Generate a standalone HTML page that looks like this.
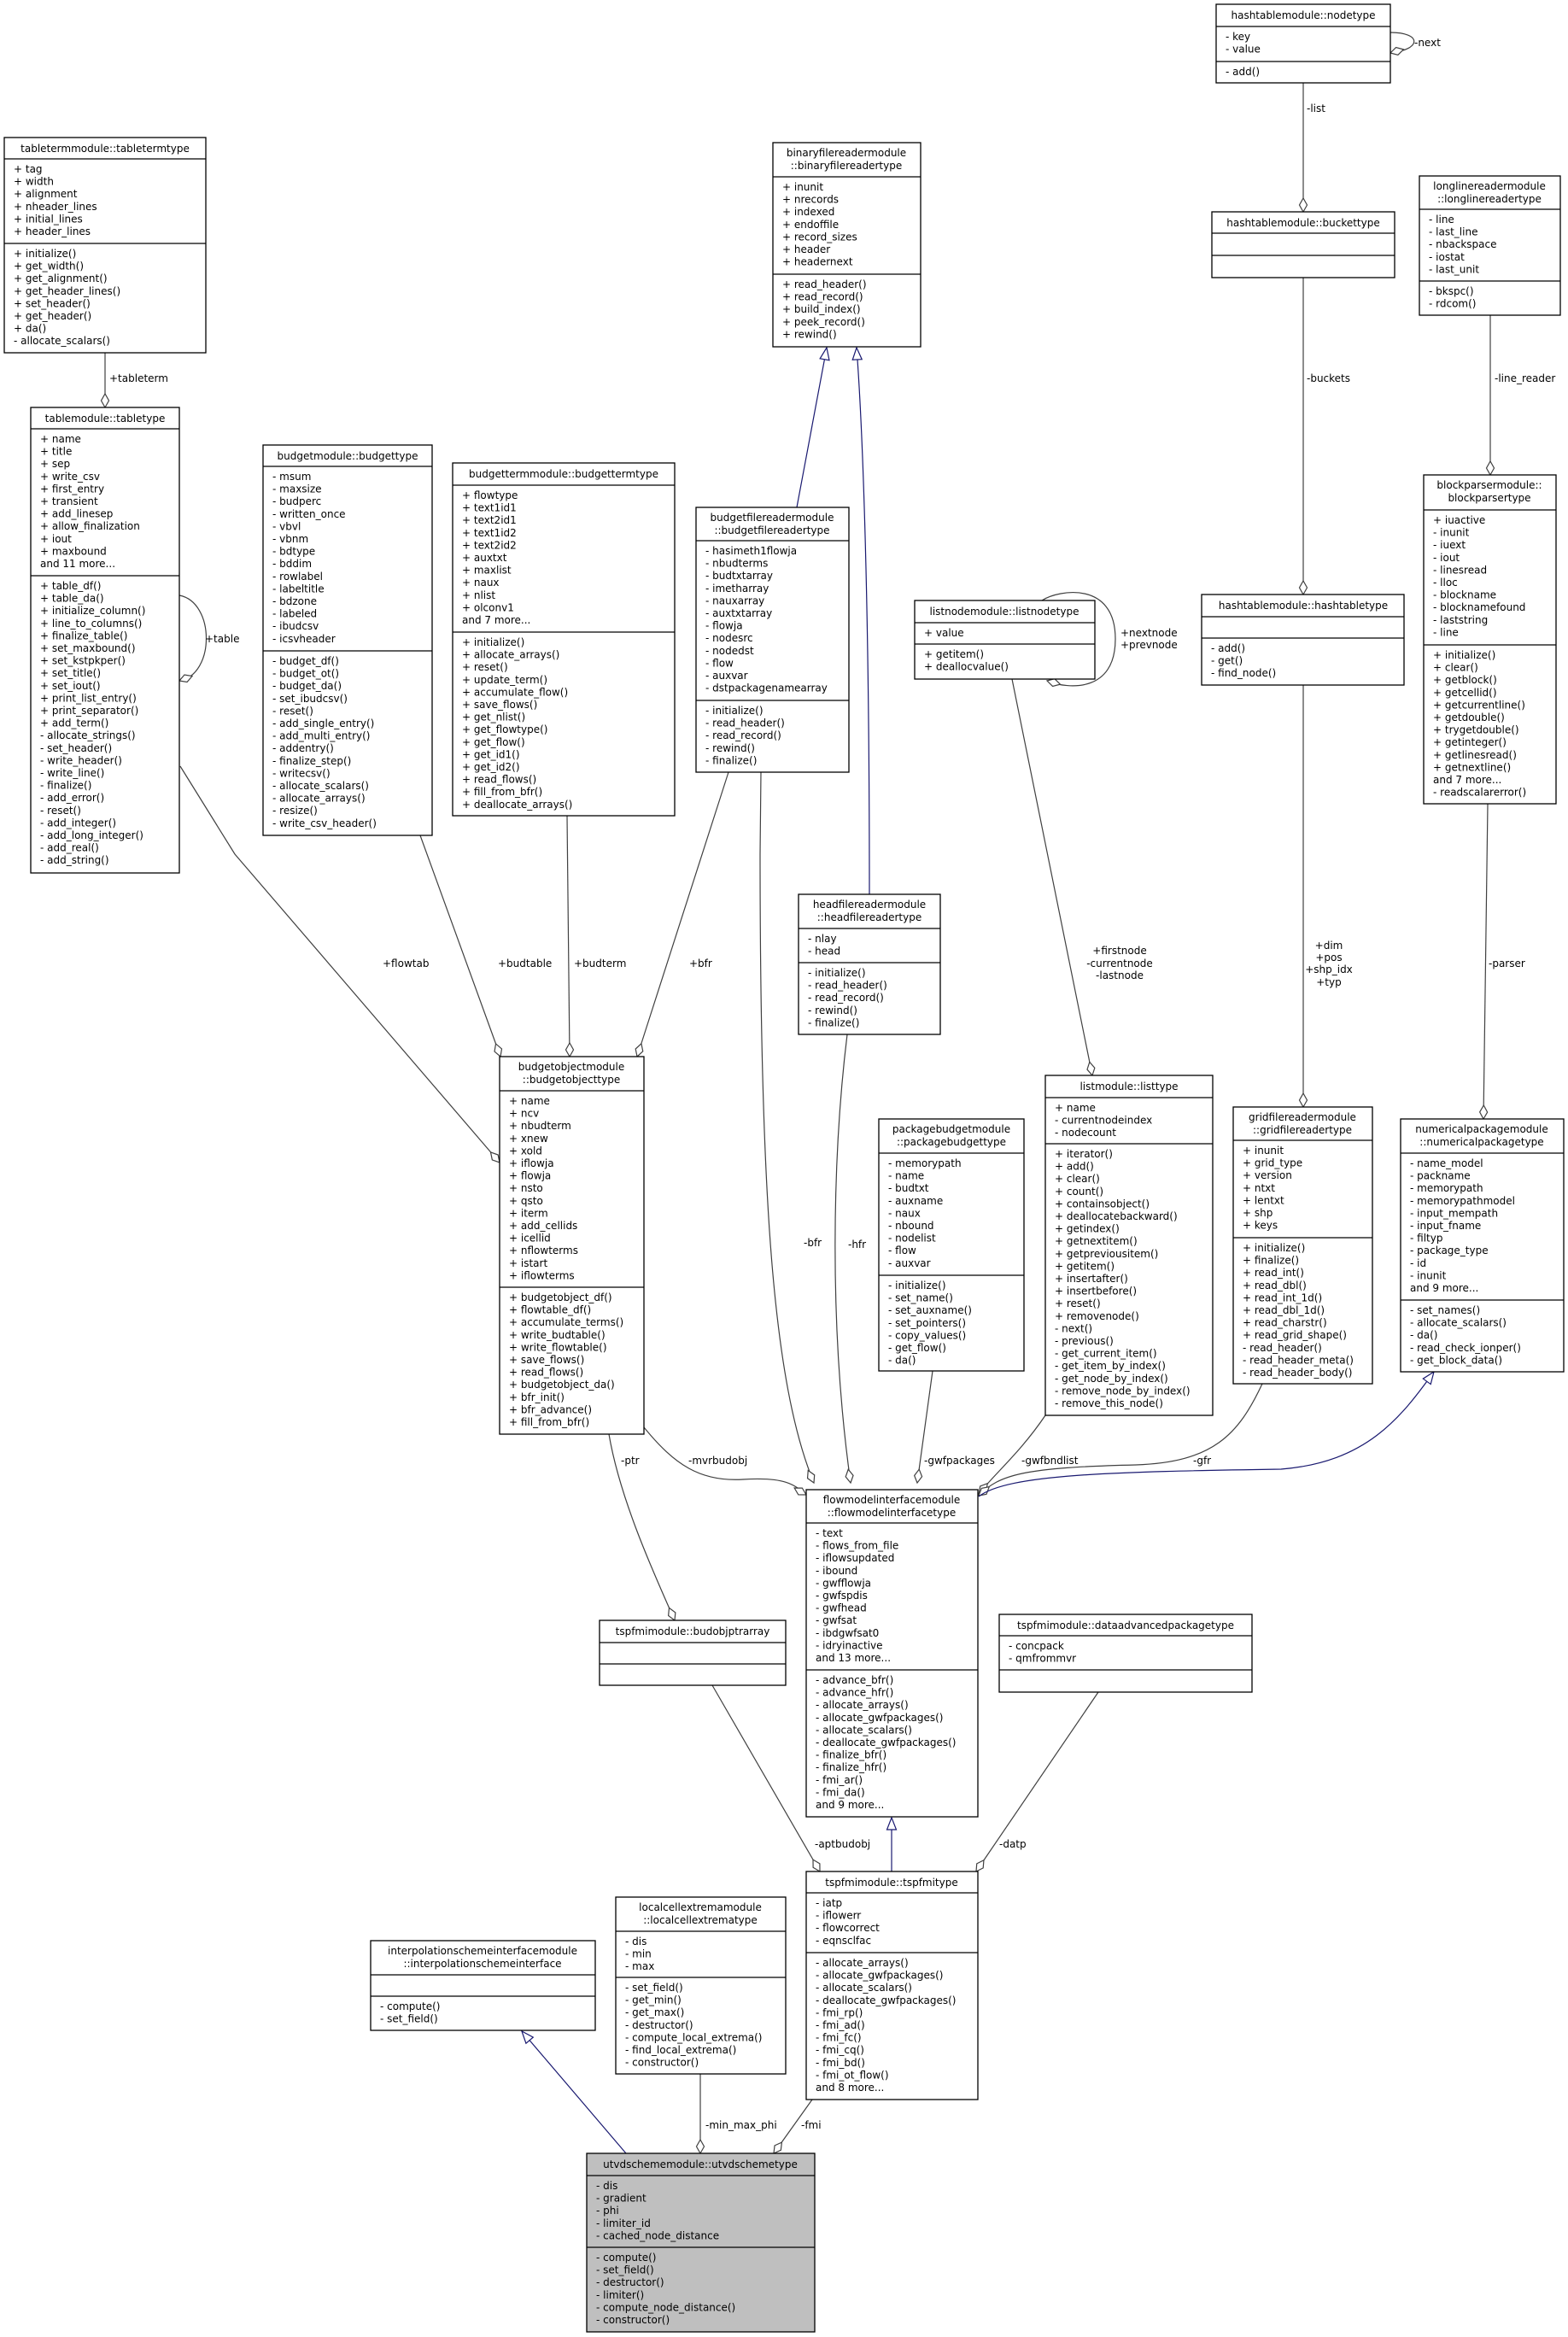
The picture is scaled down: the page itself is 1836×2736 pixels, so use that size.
<!DOCTYPE html>
<html><head><meta charset="utf-8"><style>
html,body{margin:0;padding:0;background:#fff;}
svg{display:block;}
text{font-family:"DejaVu Sans","Liberation Sans",sans-serif;font-size:12px;fill:#000;}
.b{fill:#fff;stroke:#000;stroke-width:1.3;}
.g{fill:#bfbfbf;stroke:#000;stroke-width:1.3;}
.s{stroke:#000;stroke-width:1.3;}
.e{fill:none;stroke:#404040;stroke-width:1.2;}
.i{fill:none;stroke:#191970;stroke-width:1.2;}
.d{fill:#fff;stroke:#404040;stroke-width:1.2;}
.t{fill:#fff;stroke:#191970;stroke-width:1.2;}
.c{text-anchor:middle;}
</style></head><body>
<svg width="1836" height="2736" viewBox="0 0 1836 2736" xmlns="http://www.w3.org/2000/svg">
<!-- ===== EDGES ===== -->
<line class="e" x1="123" y1="413" x2="123" y2="477"/>
<path class="d" transform="translate(123,477) rotate(90)" d="M0,0 L-8,-4.5 L-16,0 L-8,4.5Z"/>
<text x="128" y="447">+tableterm</text>

<path class="e" d="M210,697 C252,705 252,790 210,797"/>
<path class="d" transform="translate(210,797) rotate(160)" d="M0,0 L-8,-4.5 L-16,0 L-8,4.5Z"/>
<text x="240" y="752">+table</text>

<path class="e" d="M211,897 L275,1000 L585,1361"/>
<path class="d" transform="translate(585,1361) rotate(49)" d="M0,0 L-8,-4.5 L-16,0 L-8,4.5Z"/>
<text x="448" y="1132">+flowtab</text>

<line class="e" x1="492" y1="978" x2="586" y2="1237"/>
<path class="d" transform="translate(586,1237) rotate(70)" d="M0,0 L-8,-4.5 L-16,0 L-8,4.5Z"/>
<text x="583" y="1132">+budtable</text>

<line class="e" x1="664" y1="955" x2="667" y2="1237"/>
<path class="d" transform="translate(667,1237) rotate(90)" d="M0,0 L-8,-4.5 L-16,0 L-8,4.5Z"/>
<text x="672" y="1132">+budterm</text>

<line class="e" x1="853" y1="904" x2="746" y2="1237"/>
<path class="d" transform="translate(746,1237) rotate(108)" d="M0,0 L-8,-4.5 L-16,0 L-8,4.5Z"/>
<text x="807" y="1132">+bfr</text>

<path class="e" d="M891,904 L890,1000 C890,1400 905,1620 953,1736"/>
<path class="d" transform="translate(953,1736) rotate(65)" d="M0,0 L-8,-4.5 L-16,0 L-8,4.5Z"/>
<text x="941" y="1459">-bfr</text>

<line class="i" x1="933" y1="594" x2="968" y2="407"/>
<path class="t" transform="translate(968,407) rotate(-80)" d="M0,0 L-14,-5.5 L-14,5.5Z"/>
<path class="i" d="M1018,1047 C1018,700 1010,500 1003,407"/>
<path class="t" transform="translate(1003,407) rotate(-93)" d="M0,0 L-14,-5.5 L-14,5.5Z"/>

<line class="e" x1="1526" y1="97" x2="1526" y2="248"/>
<path class="d" transform="translate(1526,248) rotate(90)" d="M0,0 L-8,-4.5 L-16,0 L-8,4.5Z"/>
<text x="1530" y="131">-list</text>

<path class="e" d="M1628,38 C1665,38 1665,58 1628,62"/>
<path class="d" transform="translate(1628,62) rotate(165)" d="M0,0 L-8,-4.5 L-16,0 L-8,4.5Z"/>
<text x="1656" y="54">-next</text>

<line class="e" x1="1526" y1="325" x2="1526" y2="696"/>
<path class="d" transform="translate(1526,696) rotate(90)" d="M0,0 L-8,-4.5 L-16,0 L-8,4.5Z"/>
<text x="1530" y="447">-buckets</text>

<line class="e" x1="1745" y1="369" x2="1745" y2="556"/>
<path class="d" transform="translate(1745,556) rotate(90)" d="M0,0 L-8,-4.5 L-16,0 L-8,4.5Z"/>
<text x="1750" y="447">-line_reader</text>

<path class="e" d="M1220,703 C1240,690 1306,680 1306,748 C1306,812 1250,806 1228,798"/>
<path class="d" transform="translate(1226,797) rotate(195)" d="M0,0 L-8,-4.5 L-16,0 L-8,4.5Z"/>
<text x="1312" y="745">+nextnode</text>
<text x="1312" y="759">+prevnode</text>

<line class="e" x1="1185" y1="795" x2="1279" y2="1259"/>
<path class="d" transform="translate(1279,1259) rotate(78.5)" d="M0,0 L-8,-4.5 L-16,0 L-8,4.5Z"/>
<text class="c" x="1311" y="1117">+firstnode</text>
<text class="c" x="1311" y="1132">-currentnode</text>
<text class="c" x="1311" y="1146">-lastnode</text>

<line class="e" x1="1526" y1="802" x2="1526" y2="1296"/>
<path class="d" transform="translate(1526,1296) rotate(90)" d="M0,0 L-8,-4.5 L-16,0 L-8,4.5Z"/>
<text class="c" x="1556" y="1111">+dim</text>
<text class="c" x="1556" y="1125">+pos</text>
<text class="c" x="1556" y="1139">+shp_idx</text>
<text class="c" x="1556" y="1154">+typ</text>

<line class="e" x1="1742" y1="941" x2="1737" y2="1310"/>
<path class="d" transform="translate(1737,1310) rotate(91)" d="M0,0 L-8,-4.5 L-16,0 L-8,4.5Z"/>
<text x="1743" y="1132">-parser</text>

<path class="e" d="M713,1679 C725,1750 760,1830 790,1897"/>
<path class="d" transform="translate(790,1897) rotate(66)" d="M0,0 L-8,-4.5 L-16,0 L-8,4.5Z"/>
<text x="727" y="1714">-ptr</text>

<path class="e" d="M754,1671 C790,1715 820,1735 870,1732 C920,1729 930,1738 944,1750"/>
<path class="d" transform="translate(944,1750) rotate(30)" d="M0,0 L-8,-4.5 L-16,0 L-8,4.5Z"/>
<text x="806" y="1714">-mvrbudobj</text>

<path class="e" d="M992,1211 C975,1350 970,1550 996,1736"/>
<path class="d" transform="translate(996,1736) rotate(80)" d="M0,0 L-8,-4.5 L-16,0 L-8,4.5Z"/>
<text x="993" y="1461">-hfr</text>

<line class="e" x1="1092" y1="1605" x2="1074" y2="1736"/>
<path class="d" transform="translate(1074,1736) rotate(98)" d="M0,0 L-8,-4.5 L-16,0 L-8,4.5Z"/>
<text x="1082" y="1714">-gwfpackages</text>

<path class="e" d="M1224,1657 C1195,1700 1165,1725 1146,1749"/>
<path class="d" transform="translate(1146,1749) rotate(130)" d="M0,0 L-8,-4.5 L-16,0 L-8,4.5Z"/>
<text x="1196" y="1714">-gwfbndlist</text>

<path class="e" d="M1478,1620 C1450,1680 1420,1712 1330,1715 C1200,1718 1170,1726 1146,1751"/>
<path class="d" transform="translate(1146,1751) rotate(140)" d="M0,0 L-8,-4.5 L-16,0 L-8,4.5Z"/>
<text x="1397" y="1714">-gfr</text>

<path class="i" d="M1146,1752 C1180,1726 1300,1723 1500,1720 C1600,1712 1640,1660 1679,1606"/>
<path class="t" transform="translate(1679,1606) rotate(-54)" d="M0,0 L-14,-5.5 L-14,5.5Z"/>

<line class="e" x1="834" y1="1973" x2="960" y2="2191"/>
<path class="d" transform="translate(960,2191) rotate(60)" d="M0,0 L-8,-4.5 L-16,0 L-8,4.5Z"/>
<text x="954" y="2163">-aptbudobj</text>

<line class="i" x1="1044" y1="2191" x2="1044" y2="2128"/>
<path class="t" transform="translate(1044,2128) rotate(-90)" d="M0,0 L-14,-5.5 L-14,5.5Z"/>

<line class="e" x1="1286" y1="1981" x2="1143" y2="2191"/>
<path class="d" transform="translate(1143,2191) rotate(124)" d="M0,0 L-8,-4.5 L-16,0 L-8,4.5Z"/>
<text x="1170" y="2163">-datp</text>

<line class="e" x1="951" y1="2458" x2="906" y2="2521"/>
<path class="d" transform="translate(906,2521) rotate(126)" d="M0,0 L-8,-4.5 L-16,0 L-8,4.5Z"/>
<text x="938" y="2492">-fmi</text>

<line class="e" x1="820" y1="2428" x2="820" y2="2521"/>
<path class="d" transform="translate(820,2521) rotate(90)" d="M0,0 L-8,-4.5 L-16,0 L-8,4.5Z"/>
<text x="826" y="2492">-min_max_phi</text>

<line class="i" x1="733" y1="2521" x2="611" y2="2378"/>
<path class="t" transform="translate(611,2378) rotate(-130.5)" d="M0,0 L-14,-5.5 L-14,5.5Z"/>

<!-- ===== BOXES ===== -->
<!-- tabletermtype -->
<rect class="b" x="5" y="161" width="236" height="252"/>
<line class="s" x1="5" y1="186" x2="241" y2="186"/><line class="s" x1="5" y1="285" x2="241" y2="285"/>
<text class="c" x="123" y="178">tabletermmodule::tabletermtype</text>
<text x="16" y="202"><tspan x="16">+ tag</tspan><tspan x="16" dy="14.6">+ width</tspan><tspan x="16" dy="14.6">+ alignment</tspan><tspan x="16" dy="14.6">+ nheader_lines</tspan><tspan x="16" dy="14.6">+ initial_lines</tspan><tspan x="16" dy="14.6">+ header_lines</tspan></text>
<text x="16" y="301"><tspan x="16">+ initialize()</tspan><tspan x="16" dy="14.6">+ get_width()</tspan><tspan x="16" dy="14.6">+ get_alignment()</tspan><tspan x="16" dy="14.6">+ get_header_lines()</tspan><tspan x="16" dy="14.6">+ set_header()</tspan><tspan x="16" dy="14.6">+ get_header()</tspan><tspan x="16" dy="14.6">+ da()</tspan><tspan x="16" dy="14.6">- allocate_scalars()</tspan></text>

<!-- tabletype -->
<rect class="b" x="36" y="477" width="174" height="545"/>
<line class="s" x1="36" y1="502" x2="210" y2="502"/><line class="s" x1="36" y1="674" x2="210" y2="674"/>
<text class="c" x="123" y="494">tablemodule::tabletype</text>
<text x="47" y="518"><tspan x="47">+ name</tspan><tspan x="47" dy="14.6">+ title</tspan><tspan x="47" dy="14.6">+ sep</tspan><tspan x="47" dy="14.6">+ write_csv</tspan><tspan x="47" dy="14.6">+ first_entry</tspan><tspan x="47" dy="14.6">+ transient</tspan><tspan x="47" dy="14.6">+ add_linesep</tspan><tspan x="47" dy="14.6">+ allow_finalization</tspan><tspan x="47" dy="14.6">+ iout</tspan><tspan x="47" dy="14.6">+ maxbound</tspan><tspan x="47" dy="14.6">and 11 more...</tspan></text>
<text x="47" y="690"><tspan x="47">+ table_df()</tspan><tspan x="47" dy="14.6">+ table_da()</tspan><tspan x="47" dy="14.6">+ initialize_column()</tspan><tspan x="47" dy="14.6">+ line_to_columns()</tspan><tspan x="47" dy="14.6">+ finalize_table()</tspan><tspan x="47" dy="14.6">+ set_maxbound()</tspan><tspan x="47" dy="14.6">+ set_kstpkper()</tspan><tspan x="47" dy="14.6">+ set_title()</tspan><tspan x="47" dy="14.6">+ set_iout()</tspan><tspan x="47" dy="14.6">+ print_list_entry()</tspan><tspan x="47" dy="14.6">+ print_separator()</tspan><tspan x="47" dy="14.6">+ add_term()</tspan><tspan x="47" dy="14.6">- allocate_strings()</tspan><tspan x="47" dy="14.6">- set_header()</tspan><tspan x="47" dy="14.6">- write_header()</tspan><tspan x="47" dy="14.6">- write_line()</tspan><tspan x="47" dy="14.6">- finalize()</tspan><tspan x="47" dy="14.6">- add_error()</tspan><tspan x="47" dy="14.6">- reset()</tspan><tspan x="47" dy="14.6">- add_integer()</tspan><tspan x="47" dy="14.6">- add_long_integer()</tspan><tspan x="47" dy="14.6">- add_real()</tspan><tspan x="47" dy="14.6">- add_string()</tspan></text>

<!-- budgettype -->
<rect class="b" x="308" y="521" width="198" height="457"/>
<line class="s" x1="308" y1="546" x2="506" y2="546"/><line class="s" x1="308" y1="762" x2="506" y2="762"/>
<text class="c" x="407" y="538">budgetmodule::budgettype</text>
<text x="319" y="562"><tspan x="319">- msum</tspan><tspan x="319" dy="14.6">- maxsize</tspan><tspan x="319" dy="14.6">- budperc</tspan><tspan x="319" dy="14.6">- written_once</tspan><tspan x="319" dy="14.6">- vbvl</tspan><tspan x="319" dy="14.6">- vbnm</tspan><tspan x="319" dy="14.6">- bdtype</tspan><tspan x="319" dy="14.6">- bddim</tspan><tspan x="319" dy="14.6">- rowlabel</tspan><tspan x="319" dy="14.6">- labeltitle</tspan><tspan x="319" dy="14.6">- bdzone</tspan><tspan x="319" dy="14.6">- labeled</tspan><tspan x="319" dy="14.6">- ibudcsv</tspan><tspan x="319" dy="14.6">- icsvheader</tspan></text>
<text x="319" y="778"><tspan x="319">- budget_df()</tspan><tspan x="319" dy="14.6">- budget_ot()</tspan><tspan x="319" dy="14.6">- budget_da()</tspan><tspan x="319" dy="14.6">- set_ibudcsv()</tspan><tspan x="319" dy="14.6">- reset()</tspan><tspan x="319" dy="14.6">- add_single_entry()</tspan><tspan x="319" dy="14.6">- add_multi_entry()</tspan><tspan x="319" dy="14.6">- addentry()</tspan><tspan x="319" dy="14.6">- finalize_step()</tspan><tspan x="319" dy="14.6">- writecsv()</tspan><tspan x="319" dy="14.6">- allocate_scalars()</tspan><tspan x="319" dy="14.6">- allocate_arrays()</tspan><tspan x="319" dy="14.6">- resize()</tspan><tspan x="319" dy="14.6">- write_csv_header()</tspan></text>

<!-- budgettermtype -->
<rect class="b" x="530" y="542" width="260" height="413"/>
<line class="s" x1="530" y1="568" x2="790" y2="568"/><line class="s" x1="530" y1="740" x2="790" y2="740"/>
<text class="c" x="660" y="559">budgettermmodule::budgettermtype</text>
<text x="541" y="584"><tspan x="541">+ flowtype</tspan><tspan x="541" dy="14.6">+ text1id1</tspan><tspan x="541" dy="14.6">+ text2id1</tspan><tspan x="541" dy="14.6">+ text1id2</tspan><tspan x="541" dy="14.6">+ text2id2</tspan><tspan x="541" dy="14.6">+ auxtxt</tspan><tspan x="541" dy="14.6">+ maxlist</tspan><tspan x="541" dy="14.6">+ naux</tspan><tspan x="541" dy="14.6">+ nlist</tspan><tspan x="541" dy="14.6">+ olconv1</tspan><tspan x="541" dy="14.6">and 7 more...</tspan></text>
<text x="541" y="756"><tspan x="541">+ initialize()</tspan><tspan x="541" dy="14.6">+ allocate_arrays()</tspan><tspan x="541" dy="14.6">+ reset()</tspan><tspan x="541" dy="14.6">+ update_term()</tspan><tspan x="541" dy="14.6">+ accumulate_flow()</tspan><tspan x="541" dy="14.6">+ save_flows()</tspan><tspan x="541" dy="14.6">+ get_nlist()</tspan><tspan x="541" dy="14.6">+ get_flowtype()</tspan><tspan x="541" dy="14.6">+ get_flow()</tspan><tspan x="541" dy="14.6">+ get_id1()</tspan><tspan x="541" dy="14.6">+ get_id2()</tspan><tspan x="541" dy="14.6">+ read_flows()</tspan><tspan x="541" dy="14.6">+ fill_from_bfr()</tspan><tspan x="541" dy="14.6">+ deallocate_arrays()</tspan></text>

<!-- budgetfilereadertype -->
<rect class="b" x="815" y="594" width="179" height="310"/>
<line class="s" x1="815" y1="633" x2="994" y2="633"/><line class="s" x1="815" y1="820" x2="994" y2="820"/>
<text class="c" x="904" y="610">budgetfilereadermodule</text>
<text class="c" x="904" y="625">::budgetfilereadertype</text>
<text x="826" y="649"><tspan x="826">- hasimeth1flowja</tspan><tspan x="826" dy="14.6">- nbudterms</tspan><tspan x="826" dy="14.6">- budtxtarray</tspan><tspan x="826" dy="14.6">- imetharray</tspan><tspan x="826" dy="14.6">- nauxarray</tspan><tspan x="826" dy="14.6">- auxtxtarray</tspan><tspan x="826" dy="14.6">- flowja</tspan><tspan x="826" dy="14.6">- nodesrc</tspan><tspan x="826" dy="14.6">- nodedst</tspan><tspan x="826" dy="14.6">- flow</tspan><tspan x="826" dy="14.6">- auxvar</tspan><tspan x="826" dy="14.6">- dstpackagenamearray</tspan></text>
<text x="826" y="836"><tspan x="826">- initialize()</tspan><tspan x="826" dy="14.6">- read_header()</tspan><tspan x="826" dy="14.6">- read_record()</tspan><tspan x="826" dy="14.6">- rewind()</tspan><tspan x="826" dy="14.6">- finalize()</tspan></text>

<!-- binaryfilereadertype -->
<rect class="b" x="905" y="167" width="173" height="239"/>
<line class="s" x1="905" y1="207" x2="1078" y2="207"/><line class="s" x1="905" y1="321" x2="1078" y2="321"/>
<text class="c" x="991" y="183">binaryfilereadermodule</text>
<text class="c" x="991" y="198">::binaryfilereadertype</text>
<text x="916" y="223"><tspan x="916">+ inunit</tspan><tspan x="916" dy="14.6">+ nrecords</tspan><tspan x="916" dy="14.6">+ indexed</tspan><tspan x="916" dy="14.6">+ endoffile</tspan><tspan x="916" dy="14.6">+ record_sizes</tspan><tspan x="916" dy="14.6">+ header</tspan><tspan x="916" dy="14.6">+ headernext</tspan></text>
<text x="916" y="337"><tspan x="916">+ read_header()</tspan><tspan x="916" dy="14.6">+ read_record()</tspan><tspan x="916" dy="14.6">+ build_index()</tspan><tspan x="916" dy="14.6">+ peek_record()</tspan><tspan x="916" dy="14.6">+ rewind()</tspan></text>

<!-- nodetype -->
<rect class="b" x="1424" y="5" width="204" height="92"/>
<line class="s" x1="1424" y1="31" x2="1628" y2="31"/><line class="s" x1="1424" y1="72" x2="1628" y2="72"/>
<text class="c" x="1526" y="22">hashtablemodule::nodetype</text>
<text x="1435" y="47"><tspan x="1435">- key</tspan><tspan x="1435" dy="14.6">- value</tspan></text>
<text x="1435" y="88">- add()</text>

<!-- buckettype -->
<rect class="b" x="1419" y="248" width="214" height="77"/>
<line class="s" x1="1419" y1="273" x2="1633" y2="273"/><line class="s" x1="1419" y1="299" x2="1633" y2="299"/>
<text class="c" x="1526" y="265">hashtablemodule::buckettype</text>

<!-- hashtabletype -->
<rect class="b" x="1407" y="696" width="237" height="106"/>
<line class="s" x1="1407" y1="722" x2="1644" y2="722"/><line class="s" x1="1407" y1="747" x2="1644" y2="747"/>
<text class="c" x="1526" y="713">hashtablemodule::hashtabletype</text>
<text x="1418" y="763"><tspan x="1418">- add()</tspan><tspan x="1418" dy="14.6">- get()</tspan><tspan x="1418" dy="14.6">- find_node()</tspan></text>

<!-- longlinereadertype -->
<rect class="b" x="1662" y="206" width="165" height="163"/>
<line class="s" x1="1662" y1="245" x2="1827" y2="245"/><line class="s" x1="1662" y1="329" x2="1827" y2="329"/>
<text class="c" x="1744" y="222">longlinereadermodule</text>
<text class="c" x="1744" y="237">::longlinereadertype</text>
<text x="1673" y="261"><tspan x="1673">- line</tspan><tspan x="1673" dy="14.6">- last_line</tspan><tspan x="1673" dy="14.6">- nbackspace</tspan><tspan x="1673" dy="14.6">- iostat</tspan><tspan x="1673" dy="14.6">- last_unit</tspan></text>
<text x="1673" y="345"><tspan x="1673">- bkspc()</tspan><tspan x="1673" dy="14.6">- rdcom()</tspan></text>

<!-- blockparsertype -->
<rect class="b" x="1667" y="556" width="155" height="385"/>
<line class="s" x1="1667" y1="597" x2="1822" y2="597"/><line class="s" x1="1667" y1="755" x2="1822" y2="755"/>
<text class="c" x="1744" y="572">blockparsermodule::</text>
<text class="c" x="1744" y="587">blockparsertype</text>
<text x="1678" y="613"><tspan x="1678">+ iuactive</tspan><tspan x="1678" dy="14.6">- inunit</tspan><tspan x="1678" dy="14.6">- iuext</tspan><tspan x="1678" dy="14.6">- iout</tspan><tspan x="1678" dy="14.6">- linesread</tspan><tspan x="1678" dy="14.6">- lloc</tspan><tspan x="1678" dy="14.6">- blockname</tspan><tspan x="1678" dy="14.6">- blocknamefound</tspan><tspan x="1678" dy="14.6">- laststring</tspan><tspan x="1678" dy="14.6">- line</tspan></text>
<text x="1678" y="771"><tspan x="1678">+ initialize()</tspan><tspan x="1678" dy="14.6">+ clear()</tspan><tspan x="1678" dy="14.6">+ getblock()</tspan><tspan x="1678" dy="14.6">+ getcellid()</tspan><tspan x="1678" dy="14.6">+ getcurrentline()</tspan><tspan x="1678" dy="14.6">+ getdouble()</tspan><tspan x="1678" dy="14.6">+ trygetdouble()</tspan><tspan x="1678" dy="14.6">+ getinteger()</tspan><tspan x="1678" dy="14.6">+ getlinesread()</tspan><tspan x="1678" dy="14.6">+ getnextline()</tspan><tspan x="1678" dy="14.6">and 7 more...</tspan><tspan x="1678" dy="14.6">- readscalarerror()</tspan></text>

<!-- listnodetype -->
<rect class="b" x="1071" y="703" width="211" height="92"/>
<line class="s" x1="1071" y1="729" x2="1282" y2="729"/><line class="s" x1="1071" y1="754" x2="1282" y2="754"/>
<text class="c" x="1176" y="720">listnodemodule::listnodetype</text>
<text x="1082" y="745">+ value</text>
<text x="1082" y="770"><tspan x="1082">+ getitem()</tspan><tspan x="1082" dy="14.6">+ deallocvalue()</tspan></text>

<!-- headfilereadertype -->
<rect class="b" x="935" y="1047" width="166" height="164"/>
<line class="s" x1="935" y1="1087" x2="1101" y2="1087"/><line class="s" x1="935" y1="1127" x2="1101" y2="1127"/>
<text class="c" x="1018" y="1063">headfilereadermodule</text>
<text class="c" x="1018" y="1078">::headfilereadertype</text>
<text x="946" y="1103"><tspan x="946">- nlay</tspan><tspan x="946" dy="14.6">- head</tspan></text>
<text x="946" y="1143"><tspan x="946">- initialize()</tspan><tspan x="946" dy="14.6">- read_header()</tspan><tspan x="946" dy="14.6">- read_record()</tspan><tspan x="946" dy="14.6">- rewind()</tspan><tspan x="946" dy="14.6">- finalize()</tspan></text>

<!-- budgetobjecttype -->
<rect class="b" x="585" y="1237" width="169" height="442"/>
<line class="s" x1="585" y1="1277" x2="754" y2="1277"/><line class="s" x1="585" y1="1507" x2="754" y2="1507"/>
<text class="c" x="669" y="1253">budgetobjectmodule</text>
<text class="c" x="669" y="1268">::budgetobjecttype</text>
<text x="596" y="1293"><tspan x="596">+ name</tspan><tspan x="596" dy="14.6">+ ncv</tspan><tspan x="596" dy="14.6">+ nbudterm</tspan><tspan x="596" dy="14.6">+ xnew</tspan><tspan x="596" dy="14.6">+ xold</tspan><tspan x="596" dy="14.6">+ iflowja</tspan><tspan x="596" dy="14.6">+ flowja</tspan><tspan x="596" dy="14.6">+ nsto</tspan><tspan x="596" dy="14.6">+ qsto</tspan><tspan x="596" dy="14.6">+ iterm</tspan><tspan x="596" dy="14.6">+ add_cellids</tspan><tspan x="596" dy="14.6">+ icellid</tspan><tspan x="596" dy="14.6">+ nflowterms</tspan><tspan x="596" dy="14.6">+ istart</tspan><tspan x="596" dy="14.6">+ iflowterms</tspan></text>
<text x="596" y="1523"><tspan x="596">+ budgetobject_df()</tspan><tspan x="596" dy="14.6">+ flowtable_df()</tspan><tspan x="596" dy="14.6">+ accumulate_terms()</tspan><tspan x="596" dy="14.6">+ write_budtable()</tspan><tspan x="596" dy="14.6">+ write_flowtable()</tspan><tspan x="596" dy="14.6">+ save_flows()</tspan><tspan x="596" dy="14.6">+ read_flows()</tspan><tspan x="596" dy="14.6">+ budgetobject_da()</tspan><tspan x="596" dy="14.6">+ bfr_init()</tspan><tspan x="596" dy="14.6">+ bfr_advance()</tspan><tspan x="596" dy="14.6">+ fill_from_bfr()</tspan></text>

<!-- packagebudgettype -->
<rect class="b" x="1029" y="1310" width="170" height="295"/>
<line class="s" x1="1029" y1="1350" x2="1199" y2="1350"/><line class="s" x1="1029" y1="1493" x2="1199" y2="1493"/>
<text class="c" x="1114" y="1326">packagebudgetmodule</text>
<text class="c" x="1114" y="1341">::packagebudgettype</text>
<text x="1040" y="1366"><tspan x="1040">- memorypath</tspan><tspan x="1040" dy="14.6">- name</tspan><tspan x="1040" dy="14.6">- budtxt</tspan><tspan x="1040" dy="14.6">- auxname</tspan><tspan x="1040" dy="14.6">- naux</tspan><tspan x="1040" dy="14.6">- nbound</tspan><tspan x="1040" dy="14.6">- nodelist</tspan><tspan x="1040" dy="14.6">- flow</tspan><tspan x="1040" dy="14.6">- auxvar</tspan></text>
<text x="1040" y="1509"><tspan x="1040">- initialize()</tspan><tspan x="1040" dy="14.6">- set_name()</tspan><tspan x="1040" dy="14.6">- set_auxname()</tspan><tspan x="1040" dy="14.6">- set_pointers()</tspan><tspan x="1040" dy="14.6">- copy_values()</tspan><tspan x="1040" dy="14.6">- get_flow()</tspan><tspan x="1040" dy="14.6">- da()</tspan></text>

<!-- listtype -->
<rect class="b" x="1224" y="1259" width="196" height="398"/>
<line class="s" x1="1224" y1="1285" x2="1420" y2="1285"/><line class="s" x1="1224" y1="1339" x2="1420" y2="1339"/>
<text class="c" x="1322" y="1276">listmodule::listtype</text>
<text x="1235" y="1301"><tspan x="1235">+ name</tspan><tspan x="1235" dy="14.6">- currentnodeindex</tspan><tspan x="1235" dy="14.6">- nodecount</tspan></text>
<text x="1235" y="1355"><tspan x="1235">+ iterator()</tspan><tspan x="1235" dy="14.6">+ add()</tspan><tspan x="1235" dy="14.6">+ clear()</tspan><tspan x="1235" dy="14.6">+ count()</tspan><tspan x="1235" dy="14.6">+ containsobject()</tspan><tspan x="1235" dy="14.6">+ deallocatebackward()</tspan><tspan x="1235" dy="14.6">+ getindex()</tspan><tspan x="1235" dy="14.6">+ getnextitem()</tspan><tspan x="1235" dy="14.6">+ getpreviousitem()</tspan><tspan x="1235" dy="14.6">+ getitem()</tspan><tspan x="1235" dy="14.6">+ insertafter()</tspan><tspan x="1235" dy="14.6">+ insertbefore()</tspan><tspan x="1235" dy="14.6">+ reset()</tspan><tspan x="1235" dy="14.6">+ removenode()</tspan><tspan x="1235" dy="14.6">- next()</tspan><tspan x="1235" dy="14.6">- previous()</tspan><tspan x="1235" dy="14.6">- get_current_item()</tspan><tspan x="1235" dy="14.6">- get_item_by_index()</tspan><tspan x="1235" dy="14.6">- get_node_by_index()</tspan><tspan x="1235" dy="14.6">- remove_node_by_index()</tspan><tspan x="1235" dy="14.6">- remove_this_node()</tspan></text>

<!-- gridfilereadertype -->
<rect class="b" x="1444" y="1296" width="163" height="324"/>
<line class="s" x1="1444" y1="1335" x2="1607" y2="1335"/><line class="s" x1="1444" y1="1449" x2="1607" y2="1449"/>
<text class="c" x="1525" y="1312">gridfilereadermodule</text>
<text class="c" x="1525" y="1327">::gridfilereadertype</text>
<text x="1455" y="1351"><tspan x="1455">+ inunit</tspan><tspan x="1455" dy="14.6">+ grid_type</tspan><tspan x="1455" dy="14.6">+ version</tspan><tspan x="1455" dy="14.6">+ ntxt</tspan><tspan x="1455" dy="14.6">+ lentxt</tspan><tspan x="1455" dy="14.6">+ shp</tspan><tspan x="1455" dy="14.6">+ keys</tspan></text>
<text x="1455" y="1465"><tspan x="1455">+ initialize()</tspan><tspan x="1455" dy="14.6">+ finalize()</tspan><tspan x="1455" dy="14.6">+ read_int()</tspan><tspan x="1455" dy="14.6">+ read_dbl()</tspan><tspan x="1455" dy="14.6">+ read_int_1d()</tspan><tspan x="1455" dy="14.6">+ read_dbl_1d()</tspan><tspan x="1455" dy="14.6">+ read_charstr()</tspan><tspan x="1455" dy="14.6">+ read_grid_shape()</tspan><tspan x="1455" dy="14.6">- read_header()</tspan><tspan x="1455" dy="14.6">- read_header_meta()</tspan><tspan x="1455" dy="14.6">- read_header_body()</tspan></text>

<!-- numericalpackagetype -->
<rect class="b" x="1640" y="1310" width="191" height="296"/>
<line class="s" x1="1640" y1="1350" x2="1831" y2="1350"/><line class="s" x1="1640" y1="1522" x2="1831" y2="1522"/>
<text class="c" x="1735" y="1326">numericalpackagemodule</text>
<text class="c" x="1735" y="1341">::numericalpackagetype</text>
<text x="1651" y="1366"><tspan x="1651">- name_model</tspan><tspan x="1651" dy="14.6">- packname</tspan><tspan x="1651" dy="14.6">- memorypath</tspan><tspan x="1651" dy="14.6">- memorypathmodel</tspan><tspan x="1651" dy="14.6">- input_mempath</tspan><tspan x="1651" dy="14.6">- input_fname</tspan><tspan x="1651" dy="14.6">- filtyp</tspan><tspan x="1651" dy="14.6">- package_type</tspan><tspan x="1651" dy="14.6">- id</tspan><tspan x="1651" dy="14.6">- inunit</tspan><tspan x="1651" dy="14.6">and 9 more...</tspan></text>
<text x="1651" y="1538"><tspan x="1651">- set_names()</tspan><tspan x="1651" dy="14.6">- allocate_scalars()</tspan><tspan x="1651" dy="14.6">- da()</tspan><tspan x="1651" dy="14.6">- read_check_ionper()</tspan><tspan x="1651" dy="14.6">- get_block_data()</tspan></text>

<!-- flowmodelinterfacetype -->
<rect class="b" x="944" y="1744" width="201" height="383"/>
<line class="s" x1="944" y1="1783" x2="1145" y2="1783"/><line class="s" x1="944" y1="1955" x2="1145" y2="1955"/>
<text class="c" x="1044" y="1760">flowmodelinterfacemodule</text>
<text class="c" x="1044" y="1775">::flowmodelinterfacetype</text>
<text x="955" y="1799"><tspan x="955">- text</tspan><tspan x="955" dy="14.6">- flows_from_file</tspan><tspan x="955" dy="14.6">- iflowsupdated</tspan><tspan x="955" dy="14.6">- ibound</tspan><tspan x="955" dy="14.6">- gwfflowja</tspan><tspan x="955" dy="14.6">- gwfspdis</tspan><tspan x="955" dy="14.6">- gwfhead</tspan><tspan x="955" dy="14.6">- gwfsat</tspan><tspan x="955" dy="14.6">- ibdgwfsat0</tspan><tspan x="955" dy="14.6">- idryinactive</tspan><tspan x="955" dy="14.6">and 13 more...</tspan></text>
<text x="955" y="1971"><tspan x="955">- advance_bfr()</tspan><tspan x="955" dy="14.6">- advance_hfr()</tspan><tspan x="955" dy="14.6">- allocate_arrays()</tspan><tspan x="955" dy="14.6">- allocate_gwfpackages()</tspan><tspan x="955" dy="14.6">- allocate_scalars()</tspan><tspan x="955" dy="14.6">- deallocate_gwfpackages()</tspan><tspan x="955" dy="14.6">- finalize_bfr()</tspan><tspan x="955" dy="14.6">- finalize_hfr()</tspan><tspan x="955" dy="14.6">- fmi_ar()</tspan><tspan x="955" dy="14.6">- fmi_da()</tspan><tspan x="955" dy="14.6">and 9 more...</tspan></text>

<!-- budobjptrarray -->
<rect class="b" x="702" y="1897" width="218" height="76"/>
<line class="s" x1="702" y1="1923" x2="920" y2="1923"/><line class="s" x1="702" y1="1948" x2="920" y2="1948"/>
<text class="c" x="811" y="1914">tspfmimodule::budobjptrarray</text>

<!-- dataadvancedpackagetype -->
<rect class="b" x="1170" y="1890" width="296" height="91"/>
<line class="s" x1="1170" y1="1915" x2="1466" y2="1915"/><line class="s" x1="1170" y1="1955" x2="1466" y2="1955"/>
<text class="c" x="1318" y="1907">tspfmimodule::dataadvancedpackagetype</text>
<text x="1181" y="1931"><tspan x="1181">- concpack</tspan><tspan x="1181" dy="14.6">- qmfrommvr</tspan></text>

<!-- tspfmitype -->
<rect class="b" x="944" y="2191" width="201" height="267"/>
<line class="s" x1="944" y1="2216" x2="1145" y2="2216"/><line class="s" x1="944" y1="2286" x2="1145" y2="2286"/>
<text class="c" x="1044" y="2208">tspfmimodule::tspfmitype</text>
<text x="955" y="2232"><tspan x="955">- iatp</tspan><tspan x="955" dy="14.6">- iflowerr</tspan><tspan x="955" dy="14.6">- flowcorrect</tspan><tspan x="955" dy="14.6">- eqnsclfac</tspan></text>
<text x="955" y="2302"><tspan x="955">- allocate_arrays()</tspan><tspan x="955" dy="14.6">- allocate_gwfpackages()</tspan><tspan x="955" dy="14.6">- allocate_scalars()</tspan><tspan x="955" dy="14.6">- deallocate_gwfpackages()</tspan><tspan x="955" dy="14.6">- fmi_rp()</tspan><tspan x="955" dy="14.6">- fmi_ad()</tspan><tspan x="955" dy="14.6">- fmi_fc()</tspan><tspan x="955" dy="14.6">- fmi_cq()</tspan><tspan x="955" dy="14.6">- fmi_bd()</tspan><tspan x="955" dy="14.6">- fmi_ot_flow()</tspan><tspan x="955" dy="14.6">and 8 more...</tspan></text>

<!-- interpolationschemeinterface -->
<rect class="b" x="434" y="2272" width="263" height="105"/>
<line class="s" x1="434" y1="2312" x2="697" y2="2312"/><line class="s" x1="434" y1="2337" x2="697" y2="2337"/>
<text class="c" x="565" y="2288">interpolationschemeinterfacemodule</text>
<text class="c" x="565" y="2303">::interpolationschemeinterface</text>
<text x="445" y="2353"><tspan x="445">- compute()</tspan><tspan x="445" dy="14.6">- set_field()</tspan></text>

<!-- localcellextrematype -->
<rect class="b" x="721" y="2221" width="199" height="207"/>
<line class="s" x1="721" y1="2261" x2="920" y2="2261"/><line class="s" x1="721" y1="2315" x2="920" y2="2315"/>
<text class="c" x="820" y="2237">localcellextremamodule</text>
<text class="c" x="820" y="2252">::localcellextrematype</text>
<text x="732" y="2277"><tspan x="732">- dis</tspan><tspan x="732" dy="14.6">- min</tspan><tspan x="732" dy="14.6">- max</tspan></text>
<text x="732" y="2331"><tspan x="732">- set_field()</tspan><tspan x="732" dy="14.6">- get_min()</tspan><tspan x="732" dy="14.6">- get_max()</tspan><tspan x="732" dy="14.6">- destructor()</tspan><tspan x="732" dy="14.6">- compute_local_extrema()</tspan><tspan x="732" dy="14.6">- find_local_extrema()</tspan><tspan x="732" dy="14.6">- constructor()</tspan></text>

<!-- utvdschemetype -->
<rect class="g" x="687" y="2521" width="267" height="209"/>
<line class="s" x1="687" y1="2547" x2="954" y2="2547"/><line class="s" x1="687" y1="2631" x2="954" y2="2631"/>
<text class="c" x="820" y="2538">utvdschememodule::utvdschemetype</text>
<text x="698" y="2563"><tspan x="698">- dis</tspan><tspan x="698" dy="14.6">- gradient</tspan><tspan x="698" dy="14.6">- phi</tspan><tspan x="698" dy="14.6">- limiter_id</tspan><tspan x="698" dy="14.6">- cached_node_distance</tspan></text>
<text x="698" y="2647"><tspan x="698">- compute()</tspan><tspan x="698" dy="14.6">- set_field()</tspan><tspan x="698" dy="14.6">- destructor()</tspan><tspan x="698" dy="14.6">- limiter()</tspan><tspan x="698" dy="14.6">- compute_node_distance()</tspan><tspan x="698" dy="14.6">- constructor()</tspan></text>
</svg>
</body></html>
